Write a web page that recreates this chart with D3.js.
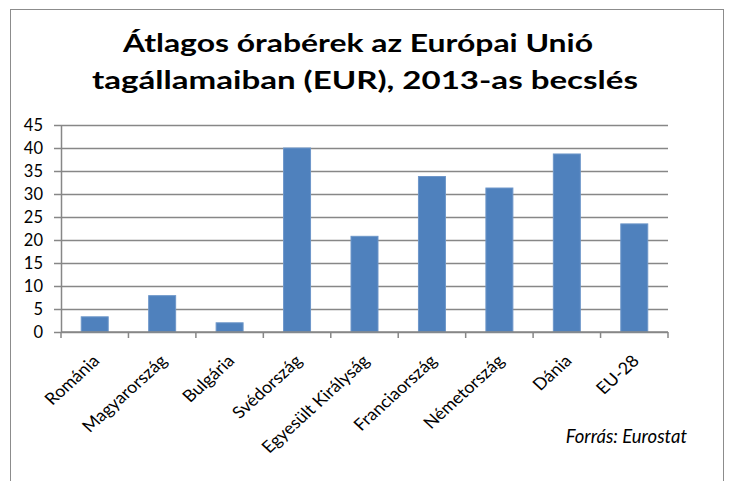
<!DOCTYPE html>
<html>
<head>
<meta charset="utf-8">
<script src="https://cdn.jsdelivr.net/npm/d3@7"></script>
<style>
  body { margin: 0; background: #fff; }
  text { font-family: Lato, "Open Sans", sans-serif; fill: #000; }
  .grid line { stroke: #878787; stroke-width: 1.5; }
  .grid path { display: none; }
  .axis path, .axis line { stroke: #878787; stroke-width: 1.5; }
</style>
</head>
<body>
<script>
const categories = ["Románia", "Magyarország", "Bulgária", "Svédország", "Egyesült Királyság",
    "Franciaország", "Németország", "Dánia", "EU-28"];
const values = [3.3, 7.9, 2.0, 40.0, 20.8, 33.8, 31.3, 38.7, 23.5];
const yTicks = [0, 5, 10, 15, 20, 25, 30, 35, 40, 45];
const titleLines = ["Átlagos órabérek az Európai Unió", "tagállamaiban (EUR), 2013-as becslés"];
const source = "Forrás: Eurostat";

const W = 730, H = 481;
const margin = { top: 125, right: 62, bottom: 149, left: 61 },
    width = W - margin.left - margin.right,
    height = H - margin.top - margin.bottom;

const svg = d3.select("body")
    .append("svg")
    .attr("width", W)
    .attr("height", H);

// chart frame
svg.append("rect")
    .attr("x", 10.5).attr("y", 9.5)
    .attr("width", 713).attr("height", 480)
    .attr("fill", "none")
    .attr("stroke", "#8c8c8c")
    .attr("stroke-width", 1);

// title widths, the source font is a bit wider than Lato
const titleWidth = [470, 546];
svg.selectAll(".title")
    .data(titleLines)
    .enter()
    .append("text")
    .attr("class", "title")
    .attr("x", (d, i) => 358 + (i === 0 ? 0 : 7) - titleWidth[i] / 2)
    .attr("y", (d, i) => 52 + i * 36.5)
    .attr("textLength", (d, i) => titleWidth[i])
    .attr("lengthAdjust", "spacingAndGlyphs")
    .style("font-size", "25px")
    .style("font-weight", "bold")
    .text(d => d);

const g = svg.append("g")
    .attr("transform", "translate(" + margin.left + "," + margin.top + ")");

var x = d3.scaleBand().domain(categories).range([0, width]).paddingInner(0.6).paddingOuter(0.3);
var y = d3.scaleLinear().domain([0, 45]).range([height, 0]);

g.append("g")
    .attr("class", "grid")
    .call(d3.axisLeft(y)
        .tickValues(yTicks)
        .tickSize(-width)
        .tickFormat(""));

g.append("g")
    .attr("class", "axis")
    .call(d3.axisLeft(y).tickValues(yTicks).tickSize(7).tickSizeOuter(0).tickPadding(11))
    .selectAll("text")
    .style("font-size", "16.5px");

g.selectAll(".bar")
    .data(values)
    .enter()
    .append("rect")
    .attr("class", "bar")
    .attr("x", (d, i) => x(categories[i]))
    .attr("y", d => y(d))
    .attr("width", x.bandwidth())
    .attr("height", d => height - y(d))
    .attr("fill", "#4f81bd")
    .attr("stroke", "#6d96c9")
    .attr("stroke-width", 1);

// x axis: ticks on category boundaries
const step = x.step();
const xAxis = g.append("g")
    .attr("class", "axis")
    .attr("transform", "translate(0," + height + ")");
xAxis.append("line")
    .attr("x1", 0).attr("x2", width)
    .attr("stroke", "#878787").attr("stroke-width", 1.5);
xAxis.selectAll(".tick")
    .data(d3.range(categories.length + 1))
    .enter()
    .append("line")
    .attr("x1", i => i * step).attr("x2", i => i * step)
    .attr("y1", 0).attr("y2", 6)
    .attr("stroke", "#878787").attr("stroke-width", 1.5);

xAxis.selectAll(".lbl")
    .data(categories)
    .enter()
    .append("text")
    .attr("class", "lbl")
    .attr("text-anchor", "end")
    .attr("transform", d => "translate(" + (x(d) + x.bandwidth() / 2 + 6) + ",30) scale(1.1,1) rotate(-45)")
    .style("font-size", "16.5px")
    .text(d => d);

svg.append("text")
    .attr("x", 687)
    .attr("y", 443)
    .attr("text-anchor", "end")
    .style("font-size", "18.5px")
    .style("font-style", "italic")
    .text(source);
</script>
</body>
</html>
